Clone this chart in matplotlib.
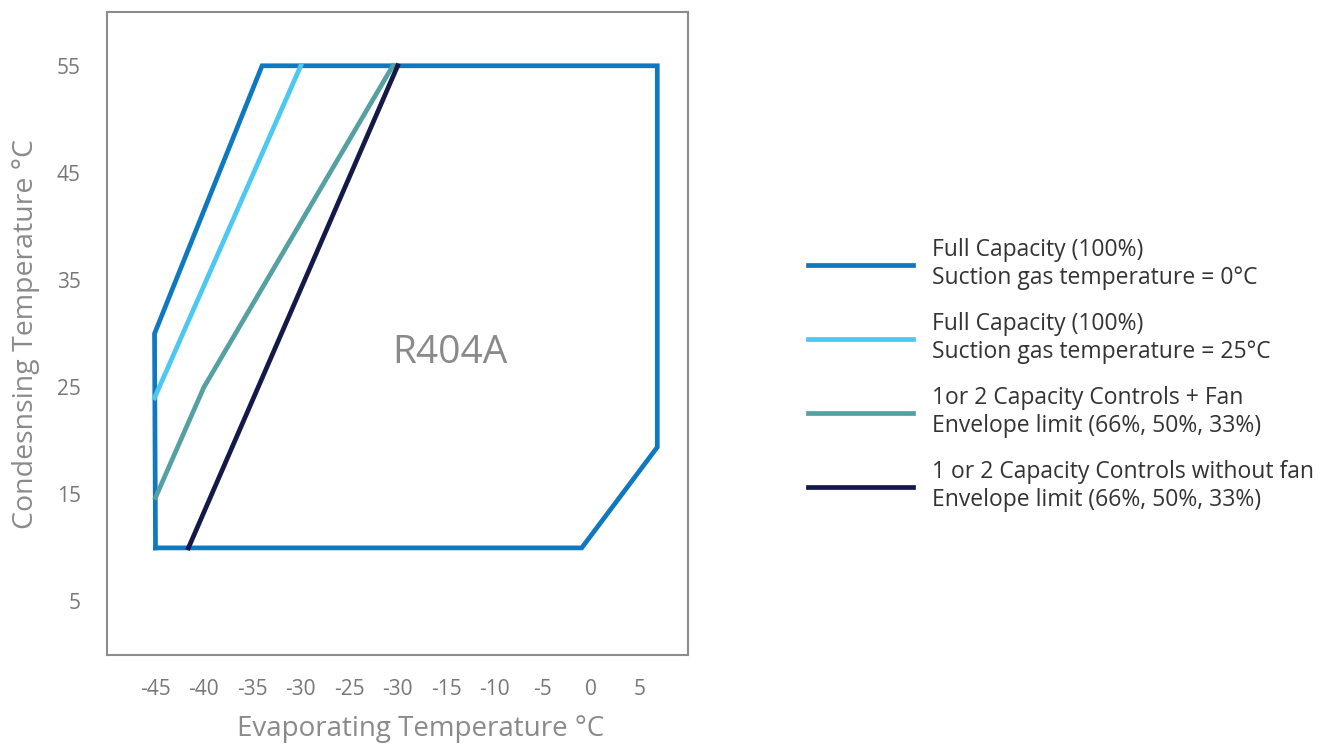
import numpy as np
import matplotlib
matplotlib.use('Agg')
import matplotlib.pyplot as plt

plt.rcParams['font.family'] = ['Open Sans', 'DejaVu Sans']

# envelope data (evaporating temp, condensing temp)
full_0_x = [-45, -45.1, -34, 6.8, 6.8, -1, -45]
full_0_y = [10, 30, 55, 55, 19.4, 10, 10]
full_25_x = [-45.1, -30]
full_25_y = [24, 55]
fan_x = [-45, -40, -20.5]
fan_y = [14.7, 25, 55]
nofan_x = [-41.6, -20]
nofan_y = [10, 55]

labels = ['Full Capacity (100%)\nSuction gas temperature = 0°C',
          'Full Capacity (100%)\nSuction gas temperature = 25°C',
          '1or 2 Capacity Controls + Fan\nEnvelope limit (66%, 50%, 33%)',
          '1 or 2 Capacity Controls without fan\nEnvelope limit (66%, 50%, 33%)']
colors = ['#1078bf', '#4dc8f2', '#55a0a3', '#15194a']

xticks = [-45, -40, -35, -30, -25, -20, -15, -10, -5, 0, 5]
xticklabels = ['-45', '-40', '-35', '-30', '-25', '-30', '-15', '-10', '-5', '0', '5']
yticks = [5, 15, 25, 35, 45, 55]

fig = plt.figure(figsize=(13.3, 7.44), dpi=100)
ax = fig.add_axes([0.0805, 0.1196, 0.437, 0.864])

lw = 3.4
ax.plot(full_0_x, full_0_y, color=colors[0], lw=lw, label=labels[0], solid_joinstyle='miter')
ax.plot(full_25_x, full_25_y, color=colors[1], lw=lw, label=labels[1])
ax.plot(fan_x, fan_y, color=colors[2], lw=lw, label=labels[2])
ax.plot(nofan_x, nofan_y, color=colors[3], lw=lw, label=labels[3])

ax.text(-14.6, 28.2, 'R404A', fontsize=28, color='#8a8a8a', ha='center', va='center')

ax.set_xlim(-50, 10)
ax.set_ylim(0, 60)
ax.set_xticks(xticks)
ax.set_xticklabels(xticklabels)
ax.set_yticks(yticks)
ax.tick_params(length=0, labelsize=15, colors='#777777', pad=17)
ax.tick_params(axis='y', pad=19)
for s in ax.spines.values():
    s.set_color('#8c8c8c')
    s.set_linewidth(1.5)

ax.set_xlabel('Evaporating Temperature °C', fontsize=20, color='#8a8a8a')
ax.set_ylabel('Condesnsing Temperature °C', fontsize=20.5, color='#8a8a8a')
ax.xaxis.set_label_coords(0.54, -0.094)
ax.yaxis.set_label_coords(-0.115, 0.5)

ax.legend(loc='center left', bbox_to_anchor=(0.6075, 0.496), bbox_transform=fig.transFigure,
          frameon=False, fontsize=16.5, handlelength=4.6, handletextpad=0.8,
          labelspacing=0.97, borderpad=0, borderaxespad=0, labelcolor='#333333')

plt.savefig('out.png', dpi=100)
